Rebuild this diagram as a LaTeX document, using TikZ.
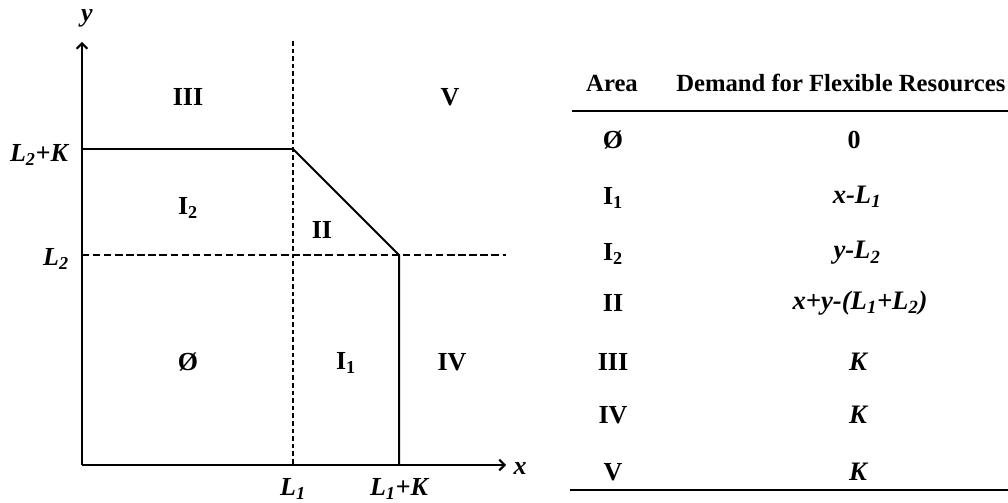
\documentclass[tikz,border=0pt]{standalone}
\usepackage{fontspec}
\setmainfont{Liberation Serif}
\usepackage{tikz}
\usetikzlibrary{positioning, arrows.meta}

\begin{document}
\begin{tikzpicture}[
      x=0.75pt, y=-0.75pt,
      axis/.style={line width=1.5pt, -{Straight Barb[length=4pt, width=8pt]}},
      bound/.style={line width=1pt},
      kink/.style={line width=1.5pt},
      guide/.style={line width=0.9pt, dash pattern=on 3.5pt off 2.2pt},
      hguide/.style={line width=1.1pt, dash pattern=on 5.5pt off 2.8pt},
      region/.style={font=\fontsize{19.5}{22}\selectfont\bfseries, inner sep=0pt},
      tick/.style={font=\fontsize{19.5}{22}\selectfont\bfseries\itshape, inner sep=0pt},
      head/.style={font=\fontsize{18.5}{22}\selectfont\bfseries, inner sep=0pt},
      cell/.style={font=\fontsize{19.5}{22}\selectfont\bfseries, inner sep=0pt},
      expr/.style={font=\fontsize{20}{22}\selectfont\bfseries\itshape, inner sep=0pt},
      rule/.style={line width=0.8pt}
    ]
    \useasboundingbox (0,0) rectangle (1008,503);

    % ── Axes and break points ──
    \coordinate (O)    at (82,465);
    \coordinate (ytop) at (82,42);
    \coordinate (xend) at (506,465);
    \coordinate (Ltop) at (293,41);
    \coordinate (Lbot) at (293,465);
    \coordinate (A)    at (82,149);
    \coordinate (B)    at (293,149);
    \coordinate (C)    at (399,255);
    \coordinate (D)    at (399,465);
    \coordinate (Ll)   at (82,255);
    \coordinate (Lr)   at (506,255);

    \draw[guide]  (Ltop) -- (Lbot);
    \draw[hguide] (Ll) -- (Lr);
    \draw[bound]  (A) -- (B);
    \draw[kink]   (B) -- (C) -- (D);
    \draw[axis]   (O) -- (ytop);
    \draw[axis]   (O) -- (xend);

    % ── Axis labels ──
    \node[tick] (ylab)  at (87,18)   {y};
    \node[tick] (xlab)  at (520,469) {x};
    \node[tick] (LKy)   at (39,155)  {L\textsubscript{2}+K};
    \node[tick] (Ly)    at (56,259)  {L\textsubscript{2}};
    \node[tick] (Lx)    at (293,489) {L\textsubscript{1}};
    \node[tick] (LKx)   at (399,489) {L\textsubscript{1}+K};

    % ── Region labels ──
    \node[region] (rIII) at (188,97)  {III};
    \node[region] (rV)   at (450,97)  {V};
    \node[region] (rIb)  at (188,208) {I\textsubscript{2}};
    \node[region] (rII)  at (322,230) {II};
    \node[region] (rO)   at (188,362) {Ø};
    \node[region] (rIa)  at (346,363) {I\textsubscript{1}};
    \node[region] (rIV)  at (452,362) {IV};

    % ── Table ──
    \node[head] (harea) at (612,83) {Area};
    \node[head, anchor=west] (hdem) at (676,83) {Demand for Flexible Resources};
    \coordinate (t1l) at (572,111);
    \coordinate (t1r) at (1008,111);
    \coordinate (t2l) at (570,490);
    \coordinate (t2r) at (1008,490);
    \draw[rule] (t1l) -- (t1r);
    \draw[rule, line width=1.1pt] (t2l) -- (t2r);

    \node[cell] (aO)   at (613,140) {Ø};
    \node[cell] (aIa)  at (613,198) {I\textsubscript{1}};
    \node[cell] (aIb)  at (613,254) {I\textsubscript{2}};
    \node[cell] (aII)  at (613,303) {II};
    \node[cell] (aIII) at (613,362) {III};
    \node[cell] (aIV)  at (613,415) {IV};
    \node[cell] (aV)   at (613,472) {V};

    \node[cell] (dO)   at (854,140) {0};
    \node[expr] (dIa)  at (857,197) {x-L\textsubscript{1}};
    \node[expr] (dIb)  at (857,253) {y-L\textsubscript{2}};
    \node[expr] (dII)  at (860,303) {x+y-(L\textsubscript{1}+L\textsubscript{2})};
    \node[expr] (dIII) at (858,362) {K};
    \node[expr] (dIV)  at (858,415) {K};
    \node[expr] (dV)   at (858,472) {K};

  \end{tikzpicture}
\end{document}
